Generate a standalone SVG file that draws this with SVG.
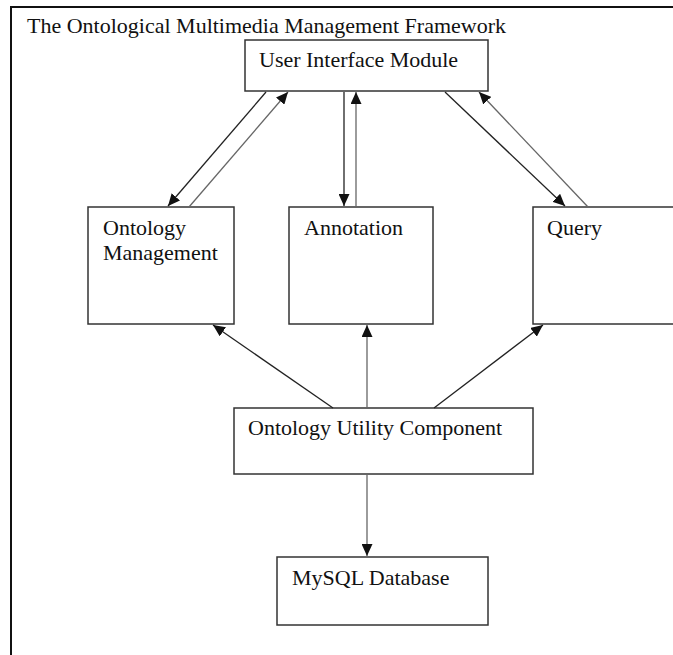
<svg xmlns="http://www.w3.org/2000/svg" width="673" height="655" viewBox="0 0 673 655">
  <style>
    .frame { fill: none; stroke: #111; stroke-width: 2; }
    .box { fill: #fff; stroke: #333; stroke-width: 1.5; }
    .lbl { font-family: "Liberation Serif", "Times New Roman", serif; font-size: 22px; fill: #111; }
    .edge { fill: none; stroke: #222; stroke-width: 1.3; marker-end: url(#arrow); }
    .edge.light { stroke: #666; }
  </style>
  <defs>
    <marker id="arrow" markerUnits="userSpaceOnUse" markerWidth="13" markerHeight="11" refX="12" refY="5.5" orient="auto">
      <path d="M0,0 L12,5.5 L0,11 Z" fill="#111"/>
    </marker>
  </defs>

  <rect width="673" height="655" fill="#fff"/>

  <!-- outer frame: top and left rules only -->
  <path class="frame" d="M11,655 L11,7 L673,7"/>
  <text class="lbl" x="27" y="33">The Ontological Multimedia Management Framework</text>

  <g id="user-interface-module">
    <rect class="box" x="245" y="40" width="243" height="51"/>
    <text class="lbl" x="259" y="67">User Interface Module</text>
  </g>

  <g id="ontology-management">
    <rect class="box" x="88" y="207" width="146" height="117"/>
    <text class="lbl" x="103" y="235">Ontology</text>
    <text class="lbl" x="103" y="260">Management</text>
  </g>

  <g id="annotation">
    <rect class="box" x="289" y="207" width="144" height="117"/>
    <text class="lbl" x="304" y="235">Annotation</text>
  </g>

  <g id="query">
    <rect class="box" x="533" y="207" width="145" height="117"/>
    <text class="lbl" x="547" y="235">Query</text>
  </g>

  <g id="ontology-utility-component">
    <rect class="box" x="234" y="408" width="299" height="66"/>
    <text class="lbl" x="248" y="435">Ontology Utility Component</text>
  </g>

  <g id="mysql-database">
    <rect class="box" x="277" y="557" width="211" height="68"/>
    <text class="lbl" x="292" y="585">MySQL Database</text>
  </g>

  <g id="connectors">
    <!-- UI <-> Ontology Management -->
    <line class="edge" x1="266" y1="92" x2="168" y2="206"/>
    <line class="edge light" x1="189" y1="207" x2="288" y2="92"/>
    <!-- UI <-> Annotation -->
    <line class="edge" x1="344" y1="92" x2="344" y2="206"/>
    <line class="edge light" x1="356" y1="207" x2="356" y2="92"/>
    <!-- UI <-> Query -->
    <line class="edge" x1="445" y1="92" x2="565" y2="206"/>
    <line class="edge light" x1="588" y1="207" x2="479" y2="92"/>
    <!-- Ontology Utility Component to the three modules -->
    <line class="edge" x1="333" y1="408" x2="213" y2="325"/>
    <line class="edge light" x1="367" y1="408" x2="367" y2="325"/>
    <line class="edge" x1="434" y1="408" x2="543" y2="325"/>
    <!-- Ontology Utility Component to database -->
    <line class="edge light" x1="367" y1="475" x2="367" y2="556"/>
  </g>
</svg>
